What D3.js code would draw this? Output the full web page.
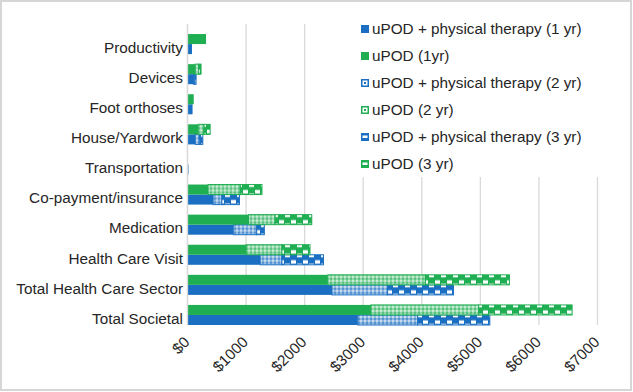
<!DOCTYPE html>
<html>
<head>
<meta charset="utf-8">
<script src="https://cdn.jsdelivr.net/npm/d3@7"></script>
<style>
  body { margin: 0; background: #fff; }
  text { font-family: "Liberation Sans", Arial, sans-serif; fill: #262626; }
</style>
</head>
<body>
<svg id="chart" width="633" height="392"></svg>
<script>
// categories, top to bottom
var categories = ["Productivity", "Devices", "Foot orthoses", "House/Yardwork", "Transportation",
  "Co-payment/insurance", "Medication", "Health Care Visit", "Total Health Care Sector", "Total Societal"];

// uPOD + physical therapy, cost added in each year
var ptYear1 = [85, 110, 95, 140, 25, 445, 790, 1250, 2475, 2915];
var ptYear2 = [0, 25, 0, 70, 0, 150, 400, 370, 950, 1025];
var ptYear3 = [0, 20, 0, 60, 0, 300, 130, 710, 1125, 1230];

// uPOD alone
var upYear1 = [325, 140, 115, 190, 15, 360, 1050, 1010, 2405, 3140];
var upYear2 = [0, 60, 0, 100, 0, 550, 455, 610, 1665, 1840];
var upYear3 = [0, 40, 0, 105, 0, 370, 625, 480, 1435, 1595];

var xTicks = [0, 1000, 2000, 3000, 4000, 5000, 6000, 7000];

var legendNames = ["uPOD + physical therapy (1 yr)", "uPOD (1yr)", "uPOD + physical therapy (2 yr)",
  "uPOD (2 yr)", "uPOD + physical therapy (3 yr)", "uPOD (3 yr)"];

var blue = "#1b6fc2";
var green = "#1fae52";
var fontSize = 15.3;

var svg = d3.select("#chart");
var margin = {left: 187, top: 24, right: 36, bottom: 67};
var w = 633 - margin.left - margin.right;
var h = 392 - margin.top - margin.bottom;

// outer frame
svg.append("rect")
  .attr("x", 1).attr("y", 1).attr("width", 630).attr("height", 389)
  .attr("fill", "#fff").attr("stroke", "#d6d6d6").attr("stroke-width", 2);

var g = svg.append("g").attr("transform", "translate(" + margin.left + "," + margin.top + ")");

var x = d3.scaleLinear().domain([0, 7000]).range([0, w]);
var y = d3.scaleBand().domain(categories).range([0, h]).padding(0);
// three slots per category, first one left empty
var slot = d3.scaleBand().domain(["none", "uPOD", "pt"]).range([0, y.bandwidth()]);

var defs = svg.append("defs");

// build pattern fills; one per row so the tiles line up with each bar
function makePatterns(name, color, series) {
  categories.forEach(function(c, i) {
    var by = margin.top + y(c) + slot(series);
    var p2 = defs.append("pattern").attr("id", name + "2_" + i)
      .attr("patternUnits", "userSpaceOnUse")
      .attr("x", 0).attr("y", by).attr("width", 4).attr("height", 4);
    p2.append("rect").attr("width", 4).attr("height", 4).attr("fill", color);
    p2.append("rect").attr("x", 0.5).attr("y", 0.5).attr("width", 3).attr("height", 3).attr("fill", "#fff");
    p2.append("rect").attr("x", 1.5).attr("y", 1.5).attr("width", 1).attr("height", 1).attr("fill", color);

    var bh = slot.bandwidth();
    var p3 = defs.append("pattern").attr("id", name + "3_" + i)
      .attr("patternUnits", "userSpaceOnUse")
      .attr("x", margin.left).attr("y", by).attr("width", 12).attr("height", bh);
    p3.append("rect").attr("width", 12).attr("height", bh).attr("fill", color);
    p3.append("rect").attr("x", 1).attr("y", 1.5).attr("width", 5).attr("height", bh / 2 - 1.5).attr("fill", "#fff");
    p3.append("rect").attr("x", 7).attr("y", bh / 2).attr("width", 5).attr("height", bh / 2 - 1.5).attr("fill", "#fff");
  });
}
makePatterns("pt", blue, "pt");
makePatterns("up", green, "uPOD");

// gridlines
g.append("g")
  .attr("class", "grid")
  .call(d3.axisBottom(x).tickValues(xTicks).tickSize(h).tickFormat(""))
  .call(function(s) {
    s.select(".domain").remove();
    s.selectAll("line").attr("stroke", "#d9d9d9").attr("stroke-width", 1.3);
  });

// stacked segments
var seriesList = [
  {key: "pt", color: blue, vals: [ptYear1, ptYear2, ptYear3]},
  {key: "uPOD", color: green, vals: [upYear1, upYear2, upYear3]}
];

seriesList.forEach(function(s) {
  var pre = s.key == "pt" ? "pt" : "up";
  categories.forEach(function(c, i) {
    var start = 0;
    for (var k = 0; k < 3; k++) {
      var v = s.vals[k][i];
      if (v > 0) {
        var fill = k == 0 ? s.color : "url(#" + pre + (k + 1) + "_" + i + ")";
        g.append("rect")
          .attr("x", x(start))
          .attr("y", y(c) + slot(s.key))
          .attr("width", x(start + v) - x(start))
          .attr("height", slot.bandwidth())
          .attr("fill", fill)
          .attr("stroke", k == 0 ? "none" : s.color)
          .attr("stroke-width", 1);
      }
      start += v;
    }
  });
});

// category axis
var yAxis = g.append("g")
  .call(d3.axisLeft(y).tickSize(0).tickPadding(4));
yAxis.select(".domain").attr("stroke", "#d9d9d9").attr("stroke-width", 1.3);
yAxis.selectAll("text")
  .attr("font-size", fontSize)
  .attr("fill", "#262626")
  .attr("dy", (slot.bandwidth() * 0.5 + 3.5 + 5.25) + "px");

// value axis labels, rotated
var xAxis = g.append("g")
  .attr("transform", "translate(0," + h + ")")
  .call(d3.axisBottom(x).tickValues(xTicks).tickSize(0).tickFormat(function(d) { return "$" + d; }));
xAxis.select(".domain").remove();
xAxis.selectAll("text")
  .attr("font-size", fontSize)
  .attr("fill", "#262626")
  .attr("text-anchor", "end")
  .attr("dy", "0")
  .attr("y", 0)
  .attr("transform", "translate(3,18) rotate(-45)");

// legend
var legend = svg.append("g").attr("transform", "translate(356,17)");
legend.append("rect").attr("width", 255).attr("height", 160).attr("fill", "#fff");

legendNames.forEach(function(name, i) {
  var color = i % 2 == 0 ? blue : green;
  var yr = Math.floor(i / 2) + 1;
  var row = legend.append("g").attr("transform", "translate(5," + (12 + i * 27) + ")");
  row.append("rect").attr("x", 0).attr("y", -4).attr("width", 8).attr("height", 8).attr("fill", color);
  if (yr == 2) {
    row.append("rect").attr("x", 1.5).attr("y", -2.5).attr("width", 5).attr("height", 5).attr("fill", "#fff");
    row.append("rect").attr("x", 3).attr("y", -1).attr("width", 2).attr("height", 2).attr("fill", color);
  } else if (yr == 3) {
    row.append("rect").attr("x", 1.5).attr("y", -1.5).attr("width", 5).attr("height", 2.5).attr("fill", "#fff");
  }
  row.append("text")
    .attr("x", 11).attr("y", 0).attr("dy", "0.35em")
    .attr("font-size", fontSize)
    .text(name);
});
</script>
</body>
</html>
